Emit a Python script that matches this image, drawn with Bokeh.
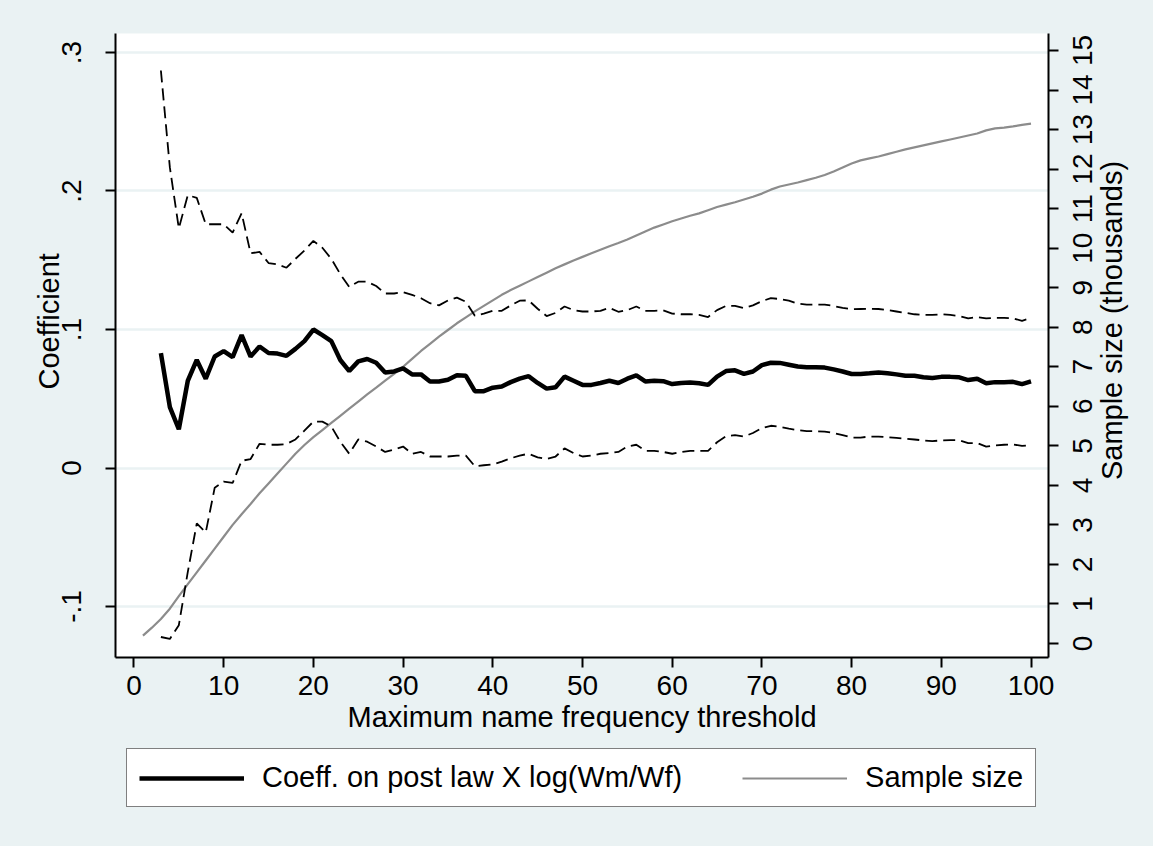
import math
from bokeh.plotting import figure
from bokeh.layouts import column, row
from bokeh.models import (Range1d, LinearAxis, FixedTicker, Legend, LegendItem,
                          CustomJSTickFormatter, Label)
from bokeh.embed import file_html
from bokeh.resources import INLINE

# ---------------- data ----------------
threshold = list(range(3, 101))          # x for coefficient and CI
threshold_n = list(range(1, 101))        # x for sample size

coef = [0.083, 0.044, 0.028, 0.063, 0.078, 0.0645, 0.0805, 0.0844, 0.080, 0.096,
        0.0805, 0.0877, 0.083, 0.0826, 0.081, 0.086, 0.0916, 0.100, 0.096, 0.0916,
        0.078, 0.070, 0.077, 0.0787, 0.076, 0.069, 0.0697, 0.072, 0.0676, 0.0676,
        0.0625, 0.0625, 0.0637, 0.067, 0.0666, 0.0555, 0.0555, 0.058, 0.0588, 0.062,
        0.0645, 0.0663, 0.0614, 0.0573, 0.0583, 0.066, 0.063, 0.060, 0.060, 0.0614,
        0.063, 0.0614, 0.0645, 0.0668, 0.0625, 0.063, 0.0627, 0.0606, 0.0614, 0.0617,
        0.0612, 0.060, 0.066, 0.070, 0.0705, 0.068, 0.0697, 0.0743, 0.076, 0.0759,
        0.0746, 0.0733, 0.0728, 0.0728, 0.0725, 0.0712, 0.0697, 0.0679, 0.0679, 0.0684,
        0.069, 0.0684, 0.0676, 0.0666, 0.0666, 0.0655, 0.065, 0.0658, 0.0658, 0.0655,
        0.0635, 0.0645, 0.0612, 0.062, 0.062, 0.0622, 0.0606, 0.0625]

ci_upper = [0.287, 0.217, 0.173, 0.197, 0.195, 0.176, 0.176, 0.176, 0.170, 0.184,
            0.155, 0.156, 0.148, 0.147, 0.1446, 0.151, 0.157, 0.164, 0.159, 0.151,
            0.140, 0.1307, 0.1345, 0.1345, 0.1314, 0.126, 0.126, 0.127, 0.125, 0.1226,
            0.119, 0.1174, 0.121, 0.123, 0.120, 0.110, 0.1115, 0.1135, 0.1135, 0.1174,
            0.1208, 0.121, 0.115, 0.1097, 0.112, 0.1166, 0.114, 0.113, 0.113, 0.1135,
            0.1156, 0.1128, 0.114, 0.1166, 0.1135, 0.1135, 0.1138, 0.1115, 0.111, 0.111,
            0.1105, 0.109, 0.114, 0.117, 0.117, 0.1154, 0.1174, 0.1205, 0.1226, 0.122,
            0.1208, 0.1187, 0.118, 0.118, 0.118, 0.117, 0.1156, 0.1146, 0.1148, 0.115,
            0.1148, 0.114, 0.113, 0.112, 0.111, 0.1105, 0.1105, 0.111, 0.1105, 0.1097,
            0.108, 0.109, 0.108, 0.1084, 0.1084, 0.108, 0.1063, 0.1084]

ci_lower = [-0.122, -0.1234, -0.1135, -0.075, -0.040, -0.0465, -0.0142, -0.0098, -0.0108, 0.0052,
            0.0065, 0.0175, 0.0168, 0.0168, 0.0173, 0.0206, 0.027, 0.0335, 0.0335, 0.030,
            0.019, 0.0103, 0.0206, 0.019, 0.0155, 0.0116, 0.0134, 0.0155, 0.0103, 0.0116,
            0.0083, 0.0083, 0.0083, 0.009, 0.009, 0.0013, 0.002, 0.0026, 0.0046, 0.007,
            0.009, 0.0103, 0.0077, 0.0065, 0.0083, 0.0142, 0.0108, 0.0083, 0.009, 0.0103,
            0.0108, 0.0116, 0.0155, 0.0168, 0.0124, 0.0124, 0.0116, 0.0103, 0.0116, 0.0124,
            0.0124, 0.0124, 0.0186, 0.023, 0.0237, 0.0227, 0.0253, 0.0289, 0.0305, 0.0297,
            0.0284, 0.0274, 0.0266, 0.0266, 0.0263, 0.0253, 0.0237, 0.022, 0.022, 0.0227,
            0.0227, 0.0222, 0.0217, 0.0212, 0.0206, 0.0199, 0.0194, 0.0199, 0.0201, 0.0201,
            0.018, 0.018, 0.0155, 0.0163, 0.0168, 0.017, 0.016, 0.0165]

sample_size = [0.20, 0.40, 0.62, 0.88, 1.20, 1.50, 1.80, 2.10, 2.40, 2.70,
               3.00, 3.27, 3.53, 3.80, 4.05, 4.30, 4.55, 4.80, 5.02, 5.22,
               5.40, 5.58, 5.76, 5.94, 6.12, 6.30, 6.47, 6.65, 6.82, 7.00,
               7.20, 7.40, 7.58, 7.76, 7.93, 8.10, 8.25, 8.40, 8.54, 8.68,
               8.82, 8.94, 9.05, 9.16, 9.27, 9.38, 9.49, 9.59, 9.69, 9.78,
               9.87, 9.96, 10.05, 10.13, 10.22, 10.32, 10.42, 10.52, 10.60, 10.68,
               10.75, 10.82, 10.88, 10.96, 11.04, 11.10, 11.16, 11.23, 11.30, 11.38,
               11.48, 11.56, 11.61, 11.66, 11.72, 11.78, 11.85, 11.94, 12.04, 12.14,
               12.22, 12.27, 12.32, 12.38, 12.44, 12.50, 12.55, 12.60, 12.65, 12.70,
               12.75, 12.80, 12.85, 12.90, 12.98, 13.03, 13.05, 13.08, 13.12, 13.15]

x_ticks = [0, 10, 20, 30, 40, 50, 60, 70, 80, 90, 100]
y_ticks = [-0.1, 0.0, 0.1, 0.2, 0.3]
n_ticks = list(range(0, 16))

x_title = "Maximum name frequency threshold"
y_title = "Coefficient"
n_title = "Sample size (thousands)"
legend_labels = ["Coeff. on post law X log(Wm/Wf)", "Sample size"]

# ---------------- styling ----------------
FONT = "Liberation Sans"
BG = "#EAF2F3"
TICK_FS = "28px"
TITLE_FS = "29px"
NB = "\u00a0"

TOP = 33              # frame top
FRAME_H = 624
BOTTOM = 90           # room for the x axis
TOP_H = TOP + FRAME_H + BOTTOM
P_RIGHT = 12          # right border of the main figure (tick marks only)
P_W = 115 + 933 + P_RIGHT
PR_W = 1153 - P_W
PR_LEFT = 34          # border of the right strip holding the tick labels

N_RANGE = Range1d(-0.354, 15.43)

p = figure(frame_width=933, frame_height=FRAME_H,
           min_border_left=115, min_border_right=P_RIGHT,
           min_border_top=TOP, min_border_bottom=BOTTOM,
           x_range=Range1d(-2.06, 101.95), y_range=Range1d(-0.1368, 0.3137),
           output_backend="svg", toolbar_location=None)
p.extra_y_ranges = {"n": N_RANGE}

p.background_fill_color = "white"
p.border_fill_color = BG
p.outline_line_color = None


def style_axis(ax):
    ax.axis_line_color = "black"
    ax.axis_line_width = 2
    ax.major_tick_line_color = "black"
    ax.major_tick_line_width = 2
    ax.major_tick_out = 10
    ax.major_tick_in = 0
    ax.minor_tick_line_color = None
    ax.major_label_text_font = FONT
    ax.major_label_text_font_size = TICK_FS
    ax.major_label_text_color = "black"
    ax.axis_label_text_font = FONT
    ax.axis_label_text_font_size = TITLE_FS
    ax.axis_label_text_font_style = "normal"
    ax.axis_label_text_color = "black"


xa = p.xaxis[0]
style_axis(xa)
xa.ticker = FixedTicker(ticks=x_ticks)
xa.axis_label = x_title
xa.major_label_standoff = 8
xa.axis_label_standoff = 3

ya = p.yaxis[0]
style_axis(ya)
ya.ticker = FixedTicker(ticks=y_ticks)
ya.formatter = CustomJSTickFormatter(
    code="if (Math.abs(tick) < 1e-9) { return '0'; } return tick.toFixed(1).replace('0.', '.');")
ya.major_label_orientation = "vertical"
ya.major_label_standoff = 24
ya.axis_label = NB * 6 + y_title
ya.axis_label_standoff = -5

# right axis of the main plot: line and tick marks (labels are in the strip)
ra = LinearAxis(y_range_name="n", ticker=FixedTicker(ticks=n_ticks))
style_axis(ra)
ra.formatter = CustomJSTickFormatter(code="return '';")
ra.major_label_text_font_size = "1px"
ra.major_label_standoff = 0
p.add_layout(ra, "right")

p.xgrid.visible = False
p.ygrid.ticker = FixedTicker(ticks=y_ticks)
p.ygrid.grid_line_color = BG
p.ygrid.grid_line_width = 2.5

# ---------------- series ----------------
r_n = p.line(threshold_n, sample_size, y_range_name="n",
             line_color="#8c8c8c", line_width=2.2)
p.line(threshold, ci_upper, line_color="black", line_width=1.8, line_dash="12 6")
p.line(threshold, ci_lower, line_color="black", line_width=1.8, line_dash="12 6")
r_coef = p.line(threshold, coef, line_color="black", line_width=4.5)

# ---------------- right strip: sample-size tick labels and title ----------------
pr = figure(width=PR_W, height=TOP_H,
            min_border_left=PR_LEFT, min_border_right=0,
            min_border_top=TOP, min_border_bottom=BOTTOM,
            x_range=Range1d(0, 1), y_range=N_RANGE,
            x_axis_location=None, y_axis_location="left",
            output_backend="svg", toolbar_location=None)
pr.background_fill_color = BG
pr.border_fill_color = BG
pr.outline_line_color = None
pr.xgrid.visible = False
pr.ygrid.visible = False
rb = pr.yaxis[0]
style_axis(rb)
rb.ticker = FixedTicker(ticks=n_ticks)
rb.axis_line_color = None
rb.major_tick_line_color = None
rb.major_tick_out = 0
rb.major_label_orientation = "vertical"
rb.major_label_standoff = 2
pr.add_layout(Label(x=17, y=657 - 320, x_units="screen", y_units="screen",
                    text=n_title, angle=math.pi / 2,
                    text_align="center", text_baseline="middle",
                    text_font=FONT, text_font_size=TITLE_FS, text_color="black"))

# ---------------- legend strip ----------------
LEG_H = 846 - TOP_H
pl = figure(width=1153, height=LEG_H, min_border=0,
            x_range=Range1d(-1000, -999), y_range=Range1d(0, 1),
            x_axis_location=None, y_axis_location=None,
            output_backend="svg", toolbar_location=None)
pl.background_fill_color = BG
pl.border_fill_color = BG
pl.outline_line_color = None
pl.xgrid.visible = False
pl.ygrid.visible = False
# same series drawn off-screen here, only so that the legend can show their line styles
k_coef = pl.line(threshold, coef, line_color="black", line_width=4.5)
k_n = pl.line(threshold_n, sample_size, line_color="#8c8c8c", line_width=2.2)
legend = Legend(items=[LegendItem(label=legend_labels[0], renderers=[k_coef]),
                       LegendItem(label=legend_labels[1], renderers=[k_n])],
                orientation="horizontal", location=(126, LEG_H - 60),
                label_text_font=FONT, label_text_font_size=TITLE_FS,
                label_text_color="black",
                glyph_width=105, glyph_height=30, label_standoff=18,
                spacing=60, padding=12, margin=0,
                border_line_color="black", border_line_width=1.5,
                background_fill_color="white", background_fill_alpha=1.0)
pl.add_layout(legend)

layout = column(row(p, pr, spacing=0, styles={"background-color": BG}),
                pl, spacing=0, styles={"background-color": BG})

open("out.html", "w").write(file_html(layout, INLINE))
